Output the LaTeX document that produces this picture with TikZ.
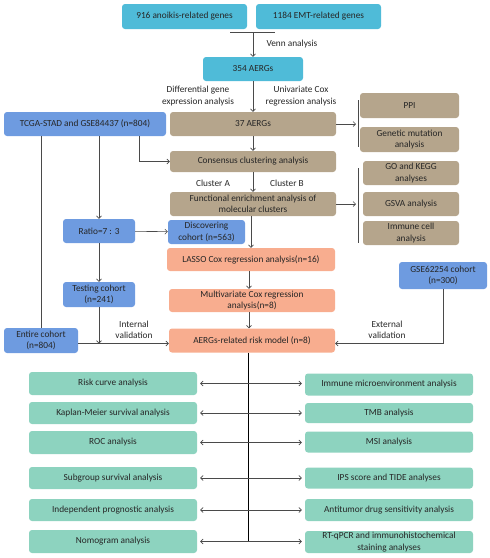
\documentclass[tikz,border=0pt]{standalone}
\usepackage{xcolor}
\usepackage{fontspec}
\setmainfont{Carlito}
\usepackage{tikz}
\usetikzlibrary{positioning,arrows.meta}
\definecolor{teal}{HTML}{4FBBD8}
\definecolor{tan}{HTML}{B5A58C}
\definecolor{cblue}{HTML}{6E9BE0}
\definecolor{salmon}{HTML}{F8AD8F}
\definecolor{mint}{HTML}{8DD3BF}
\definecolor{txt}{HTML}{262626}
\definecolor{wire}{HTML}{4A4A4A}

\begin{document}
\begin{tikzpicture}[x=1pt,y=-1pt,
  font=\fontsize{9.3}{11.4}\selectfont,
  box/.style={rounded corners=3pt, inner sep=1pt, align=center, text=txt},
  tbox/.style={box, fill=teal},
  bbox/.style={box, fill=tan},
  ubox/.style={box, fill=cblue},
  sbox/.style={box, fill=salmon},
  mbox/.style={box, fill=mint, minimum width=168pt},
  wire/.style={draw=wire, line width=0.6pt},
  >={Straight Barb[length=2.5pt,width=5pt]},
  lab/.style={align=center, text=txt}]
\useasboundingbox (0,0) rectangle (490,558);

% gene sets
\node[tbox, minimum width=125pt, minimum height=25pt] (anoikis) at (184.5,16.5) {916 anoikis-related genes};
\node[tbox, minimum width=125pt, minimum height=25pt] (emt) at (318.5,16.5) {1184 EMT-related genes};
\node[tbox, minimum width=100pt, minimum height=24pt] (aergs) at (253,69) {354 AERGs};
\coordinate (vennl) at (230,32);
\coordinate (vennr) at (275,32);
\coordinate (vennm) at (253,32);
\draw[wire] (vennl) -- (vennr);
\draw[wire,->] (vennm) -- (aergs);
\node[lab, anchor=west] (vennlab) at (263,44) {Venn analysis};

% cox + clustering
\node[ubox, minimum width=162pt, minimum height=24pt] (tcga) at (85,124) {TCGA-STAD and GSE84437 (n=804)};
\node[bbox, minimum width=166pt, minimum height=24pt] (uni) at (253,124) {37 AERGs};
\node[lab] (diflab) at (198,96) {Differential gene\\expression analysis};
\node[lab] (unilab) at (301,96) {Univariate Cox\\regression analysis};
\draw[wire,->] (aergs) -- (uni);

\node[bbox, minimum width=99pt, minimum height=25pt] (ppi) at (409.5,105.5) {PPI};
\node[bbox, minimum width=99pt, minimum height=25pt] (mut) at (409.5,139.5) {Genetic mutation\\analysis};
\coordinate (brka) at (358,100);
\coordinate (brkb) at (358,147);
\draw[wire] (brka) -- (brkb);
\draw[wire,->] (uni) -- ([xshift=-2pt]uni -| brka);

\node[bbox, minimum width=166pt, minimum height=21pt] (cons) at (253,161.5) {Consensus clustering analysis};
\draw[wire,->] (uni) -- (cons);
\draw[wire,->] ([xshift=54pt]tcga.south) |- (cons.west);

\node[bbox, minimum width=166pt, minimum height=24pt] (func) at (253,204) {Functional enrichment analysis of\\molecular clusters};
\draw[wire,->] (cons) -- (func);
\node[lab] (clusa) at (213,183) {Cluster A};
\node[lab] (clusb) at (287,183) {Cluster B};

\node[bbox, minimum width=96pt, minimum height=24pt] (gokegg) at (411,173) {GO and KEGG\\analyses};
\node[bbox, minimum width=96pt, minimum height=24pt] (gsva) at (411,204) {GSVA analysis};
\node[bbox, minimum width=96pt, minimum height=24pt] (immc) at (411,233) {Immune cell\\analysis};
\coordinate (brkc) at (358,168);
\coordinate (brkd) at (358,243);
\draw[wire] (brkc) -- (brkd);
\draw[wire,->] (func) -- ([xshift=-2pt]func -| brkc);

% cohorts
\node[ubox, minimum width=72pt, minimum height=24pt] (ratio) at (99,231) {Ratio=7 : 3};
\node[ubox, minimum width=77pt, minimum height=24pt] (disc) at (206.5,232) {Discovering\\cohort (n=563)};
\node[ubox, minimum width=72pt, minimum height=25pt] (test) at (99,294.5) {Testing cohort\\(n=241)};
\node[ubox, minimum width=74pt, minimum height=25pt] (entire) at (41,340.5) {Entire cohort\\(n=804)};
\node[ubox, minimum width=88pt, minimum height=27pt] (gse) at (443,275.5) {GSE62254 cohort\\(n=300)};
\draw[wire,->] (tcga.south -| ratio) -- (ratio);
\draw[wire] (tcga.south -| entire) -- (entire);
\draw[wire,->] (ratio) -- (disc);
\draw[wire,->] (ratio) -- (test);

% model
\node[sbox, minimum width=168pt, minimum height=23pt] (lasso) at (251,259.5) {LASSO Cox regression analysis(n=16)};
\node[sbox, minimum width=166pt, minimum height=23pt] (multi) at (252,300.5) {Multivariate Cox regression\\analysis(n=8)};
\node[sbox, minimum width=166pt, minimum height=24pt] (risk) at (252,340.5) {AERGs-related risk model (n=8)};
\coordinate (valid) at ([yshift=-3pt]entire.east);
\coordinate (extv) at ([yshift=-3pt]risk.east);
\draw[wire,->] ([xshift=-2pt]func.south) -- ([xshift=-2pt]func.south |- lasso.north);
\draw[wire,->] ([xshift=-2pt]lasso.south) -- ([xshift=-2pt]lasso.south |- multi.north);
\draw[wire,->] ([xshift=-3pt]multi.south) -- ([xshift=-3pt]multi.south |- risk.north);
\draw[wire,->] (valid) -- (valid -| risk.west);
\draw[wire,->] (test) -- (test |- valid);
\draw[wire,->] (gse) |- (extv);
\node[lab] (intlab) at (134,330) {Internal\\validation};
\node[lab] (extlab) at (387,330) {External\\validation};

% downstream analyses
\node[mbox, minimum height=23pt] (l1) at (113,383.5) {Risk curve analysis};
\node[mbox, minimum height=22pt] (l2) at (113,413) {Kaplan-Meier survival analysis};
\node[mbox, minimum height=23pt] (l3) at (113,442.5) {ROC analysis};
\node[mbox, minimum height=22pt] (l4) at (113,478) {Subgroup survival analysis};
\node[mbox, minimum height=22pt] (l5) at (113,510) {Independent prognostic analysis};
\node[mbox, minimum height=23pt] (l6) at (113,541.5) {Nomogram analysis};
\node[mbox, minimum height=22pt] (r1) at (389,384.5) {Immune microenvironment analysis};
\node[mbox, minimum height=20pt] (r2) at (389,413) {TMB analysis};
\node[mbox, minimum height=21pt] (r3) at (389,442) {MSI analysis};
\node[mbox, minimum height=21pt] (r4) at (389,478) {IPS score and TIDE analyses};
\node[mbox, minimum height=22pt] (r5) at (389,510) {Antitumor drug sensitivity analysis};
\node[mbox, minimum height=22pt] (r6) at (389,542) {RT-qPCR and immunohistochemical\\staining analyses};
\coordinate (spine) at (248,542);
\draw[line width=0.7pt] (risk.south -| spine) -- (spine);
\foreach \i in {1,...,6}
  \draw[wire,<->,shorten <=3pt,shorten >=3pt] (l\i.east) -- (r\i.west |- l\i.east);
\end{tikzpicture}
\end{document}
